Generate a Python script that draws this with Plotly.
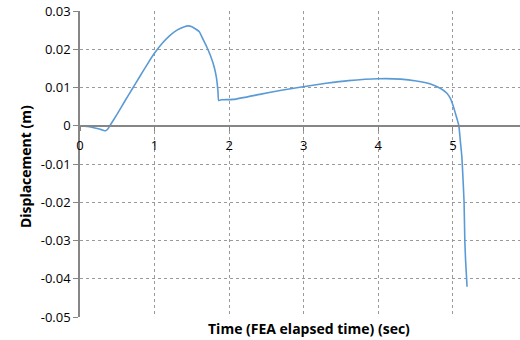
import plotly.graph_objects as go

time_s = [0.0, 0.1, 0.2, 0.3, 0.34, 0.37, 0.40, 0.5, 0.6, 0.7, 0.8, 0.9, 1.0, 1.1, 1.2, 1.3, 1.4, 1.45, 1.5, 1.55, 1.6,
          1.65, 1.7, 1.75, 1.8, 1.83, 1.85, 1.86,
          1.9, 2.06, 2.41, 2.7, 2.99, 3.3, 3.6, 4.0, 4.3, 4.51, 4.7, 4.83, 4.92, 4.97, 5.0, 5.03, 5.06, 5.08, 5.1, 5.12, 5.13, 5.15, 5.16, 5.17, 5.19]
disp_m = [0.0, -0.0002, -0.0006, -0.0011, -0.0013, -0.0009, 0.0, 0.0031, 0.0064, 0.0096, 0.0128, 0.0160, 0.0190, 0.0215, 0.0235, 0.0250, 0.0259, 0.0261, 0.0259, 0.0253, 0.0246,
          0.0226, 0.0206, 0.0183, 0.0153, 0.0125, 0.0090, 0.0066,
          0.0068, 0.0069, 0.0082, 0.0093, 0.0102, 0.0111, 0.0118, 0.0123, 0.0122, 0.0117, 0.0109, 0.0098, 0.0085, 0.0070, 0.0054, 0.0035, 0.0015, 0.0, -0.004, -0.008, -0.0116, -0.020, -0.0299, -0.035, -0.0421]

x_ticks = [0, 1, 2, 3, 4, 5]
y_ticks = [0.03, 0.02, 0.01, 0, -0.01, -0.02, -0.03, -0.04, -0.05]
y_tick_labels = ["0.03", "0.02", "0.01", "0", "-0.01", "-0.02", "-0.03", "-0.04", "-0.05"]

font_family = "Open Sans"
axis_col = "#868686"
grid_col = "#9a9a9a"

fig = go.Figure()
fig.add_trace(go.Scatter(x=time_s, y=disp_m, mode="lines",
                         line=dict(color="#5b9bd5", width=1.6, shape="spline", smoothing=0.5),
                         showlegend=False))

fig.update_layout(
    width=520, height=340,
    margin=dict(l=80, r=0, t=11, b=23, autoexpand=False),
    paper_bgcolor="white", plot_bgcolor="white",
    font=dict(family=font_family, size=12, color="#000000"),
    xaxis=dict(range=[0, 5.9], tickvals=x_ticks, ticktext=[str(v) for v in x_ticks],
               anchor="free", position=0.625, automargin=False,
               showline=True, linecolor=axis_col, linewidth=1.5,
               ticks="outside", ticklen=4, tickcolor=axis_col,
               showgrid=True, gridcolor=grid_col, griddash="dot", gridwidth=1,
               zeroline=False, tickfont=dict(size=13), ticklabelstandoff=4),
    yaxis=dict(range=[-0.05, 0.03], tickvals=y_ticks, ticktext=y_tick_labels,
               automargin=False,
               showline=True, linecolor=axis_col, linewidth=1.5,
               ticks="outside", ticklen=5, tickcolor=axis_col,
               showgrid=True, gridcolor=grid_col, griddash="dot", gridwidth=1,
               zeroline=False, tickfont=dict(size=13)),
    annotations=[
        dict(text="<b>Time (FEA elapsed time) (sec)</b>", xref="paper", yref="paper",
             x=0.52, y=-0.039, xanchor="center", yanchor="middle", showarrow=False,
             font=dict(size=14)),
        dict(text="<b>Displacement (m)</b>", xref="paper", yref="paper",
             x=-0.125, y=0.49, xanchor="center", yanchor="middle", showarrow=False,
             textangle=-90, font=dict(size=14)),
    ],
)

fig.write_html("out.html", config={"displayModeBar": False},
               post_script="document.body.style.margin='0';document.body.style.overflow='hidden';")
